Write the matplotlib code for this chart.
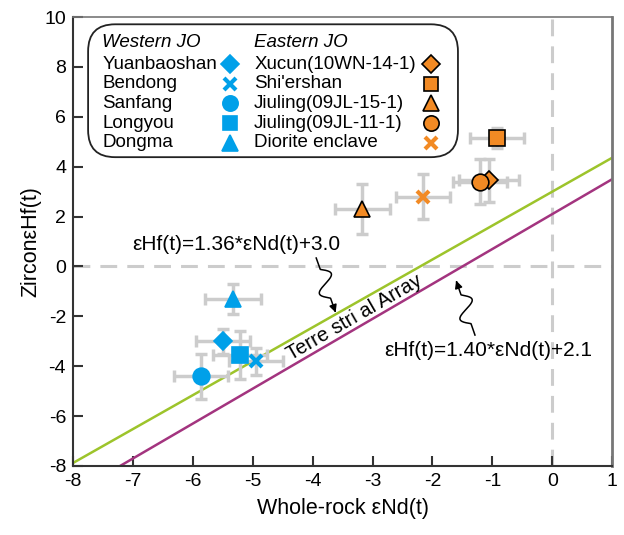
import matplotlib.pyplot as plt
from matplotlib.patches import FancyBboxPatch
import numpy as np

plt.rcParams['font.family'] = ['Liberation Sans', 'DejaVu Sans']
plt.rcParams['axes.unicode_minus'] = False

# 西部 JO
west_names = ['Yuanbaoshan', 'Bendong', 'Sanfang', 'Longyou', 'Dongma']
west_markers = ['D', 'x', 'o', 's', '^']
west_nd = [-5.50, -4.95, -5.86, -5.21, -5.33]
west_hf = [-3.0, -3.8, -4.4, -3.55, -1.3]
west_nd_err = [0.45, 0.45, 0.45, 0.45, 0.46]
west_hf_err = [0.5, 0.55, 0.9, 0.95, 0.6]

# 東部 JO
east_names = ['Xucun(10WN-14-1)', "Shi'ershan", 'Jiuling(09JL-15-1)', 'Jiuling(09JL-11-1)', 'Diorite enclave']
east_markers = ['D', 's', '^', 'o', 'x']
east_nd = [-1.06, -0.92, -3.17, -1.20, -2.16]
east_hf = [3.45, 5.15, 2.3, 3.4, 2.8]
east_nd_err = [0.5, 0.45, 0.46, 0.45, 0.45]
east_hf_err = [0.86, 0.4, 1.0, 0.9, 0.9]

# Terrestrial array lines
line_a = (1.36, 3.0)
line_b = (1.40, 2.1)

blue = '#00a0e9'
orange = '#f28a24'
grey = '#cccccc'

fig = plt.figure(figsize=(6.24, 5.35), dpi=100)
ax = fig.add_axes([0.117, 0.129, 0.864, 0.839])
ax.set_xlim(-8, 1)
ax.set_ylim(-8, 10)

ax.axhline(0, color=grey, lw=2.2, dashes=(5.5, 3.3), zorder=1)
ax.axvline(0, color=grey, lw=2.2, dashes=(5.5, 3.3), zorder=1)

xs = np.array([-8, 1])
ax.plot(xs, line_a[0] * xs + line_a[1], color='#9dc42b', lw=1.8, zorder=2)
ax.plot(xs, line_b[0] * xs + line_b[1], color='#a3347f', lw=1.8, zorder=2)

def draw_points(nd, hf, nde, hfe, markers, color, edge):
    for x, y, ex, ey, m in zip(nd, hf, nde, hfe, markers):
        ax.errorbar(x, y, xerr=ex, yerr=ey, fmt='none', ecolor=grey, elinewidth=2.5,
                    capsize=4, capthick=2.5, zorder=3)
        if m == 'x':
            ax.plot(x, y, marker='x', color=color, ms=9, mew=3, ls='none', zorder=4)
        else:
            size = {'D': 9, 's': 11, 'o': 12, '^': 12}[m]
            ax.plot(x, y, marker=m, color=color, ms=size, mec=edge, mew=1.2, ls='none', zorder=4)

draw_points(west_nd, west_hf, west_nd_err, west_hf_err, west_markers, blue, blue)
draw_points(east_nd, east_hf, east_nd_err, east_hf_err, east_markers, orange, 'black')

# 軸の体裁
ax.set_xticks(range(-8, 2))
ax.set_yticks(range(-8, 11, 2))
ax.tick_params(direction='in', length=7, width=1.5, labelsize=14, color='#333333',
               top=False, right=False, pad=5)
for s in ['left', 'bottom']:
    ax.spines[s].set_linewidth(1.5)
    ax.spines[s].set_color('#333333')
for s in ['top', 'right']:
    ax.spines[s].set_color('#777777')
ax.spines['top'].set_linewidth(1.2)
ax.spines['right'].set_linewidth(2)
ax.set_xlabel('Whole-rock εNd(t)', fontsize=15.5, labelpad=6)
ax.set_ylabel('ZirconεHf(t)', fontsize=15.5, labelpad=2)

# 凡例（手描き）
box = FancyBboxPatch((0.028, 0.688), 0.686, 0.296, boxstyle='round,pad=0,rounding_size=0.05',
                     transform=ax.transAxes, fc='white', ec='#222222', lw=1.3, zorder=5,
                     mutation_aspect=1.2)
ax.add_patch(box)
ax.text(0.054, 0.944, 'Western JO', transform=ax.transAxes, fontsize=13.5, style='italic',
        va='center', zorder=6)
ax.text(0.336, 0.944, 'Eastern JO', transform=ax.transAxes, fontsize=13.5, style='italic',
        va='center', zorder=6)
rows = [0.895, 0.852, 0.808, 0.764, 0.720]
for i, r in enumerate(rows):
    ax.text(0.054, r, west_names[i], transform=ax.transAxes, fontsize=13.5, va='center', zorder=6)
    ax.text(0.336, r, east_names[i], transform=ax.transAxes, fontsize=13.5, va='center', zorder=6)
    for mx, m, c, e in [(0.291, west_markers[i], blue, blue), (0.664, east_markers[i], orange, 'black')]:
        if m == 'x':
            ax.plot(mx, r, marker='x', color=c, ms=8, mew=3, transform=ax.transAxes, zorder=6)
        else:
            size = {'D': 9, 's': 10, 'o': 11, '^': 11}[m]
            ax.plot(mx, r, marker=m, color=c, ms=size, mec=e, mew=1.2,
                    transform=ax.transAxes, zorder=6)

# 注記
ax.text(-5.27, 0.9, 'εHf(t)=1.36*εNd(t)+3.0', fontsize=15, ha='center', va='center')
ax.text(-1.07, -3.35, 'εHf(t)=1.40*εNd(t)+2.1', fontsize=15, ha='center', va='center')
ax.text(-3.3, -2.05, 'Terre stri al Array', fontsize=14.5, rotation=30, ha='center', va='center',
        rotation_mode='anchor')

def squiggle(start, end, amp=9):
    p0 = ax.transData.transform(start)
    p1 = ax.transData.transform(end)
    d = p1 - p0
    perp = np.array([-d[1], d[0]]) / np.hypot(*d)
    t = np.linspace(0, 1, 200)
    w = np.where((t > 0.2) & (t < 0.7), np.sin(2 * np.pi * (t - 0.2) / 0.5), 0)
    pts = p0 + np.outer(t, d) + np.outer(amp * w, perp)
    pts = ax.transData.inverted().transform(pts)
    ax.plot(pts[:-20, 0], pts[:-20, 1], color='black', lw=1.1)
    ax.annotate('', xy=pts[-1], xytext=pts[-25],
                arrowprops=dict(arrowstyle='-|>', color='black', lw=1.1, mutation_scale=11))

squiggle((-3.94, 0.34), (-3.6, -1.95))
squiggle((-1.29, -2.75), (-1.62, -0.46))

fig.savefig('out.png', dpi=100)
